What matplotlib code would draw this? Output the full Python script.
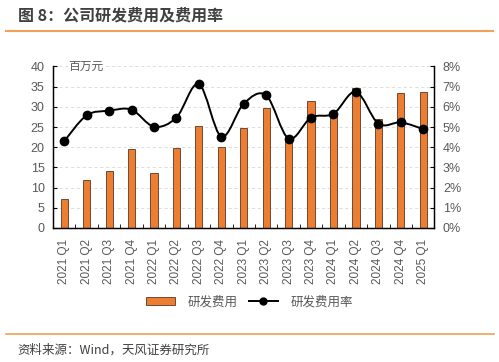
import numpy as np
import matplotlib
matplotlib.use("Agg")
import matplotlib.pyplot as plt
from matplotlib.path import Path
from matplotlib.patches import PathPatch
from matplotlib.lines import Line2D
from matplotlib.patches import Patch

plt.rcParams['font.family'] = ['Liberation Sans', 'Noto Sans CJK SC', 'DejaVu Sans']

quarters = ["2021 Q1", "2021 Q2", "2021 Q3", "2021 Q4",
            "2022 Q1", "2022 Q2", "2022 Q3", "2022 Q4",
            "2023 Q1", "2023 Q2", "2023 Q3", "2023 Q4",
            "2024 Q1", "2024 Q2", "2024 Q3", "2024 Q4",
            "2025 Q1"]
rd_expense = [7.2, 12.0, 14.1, 19.6, 13.6, 19.7, 25.3, 20.0, 24.7,
              29.6, 22.1, 31.4, 28.4, 34.7, 27.1, 33.4, 33.7]
rd_ratio = [4.30, 5.58, 5.81, 5.86, 5.02, 5.47, 7.13, 4.53, 6.16,
            6.57, 4.43, 5.47, 5.66, 6.75, 5.17, 5.23, 4.90]

gray = "#595959"
orange = "#ED7D31"
cjk = ['Noto Sans CJK SC', 'DejaVu Sans']

fig = plt.figure(figsize=(4.99, 3.62), dpi=100)
ax = fig.add_axes([0.1062, 0.3702, 0.7645, 0.4461])
ax2 = ax.twinx()

x = np.arange(len(quarters))
ax.bar(x, rd_expense, 0.32, color=orange, edgecolor="#6b4a35", linewidth=0.7, zorder=2)
ax.set_xlim(-0.5, len(quarters) - 0.5)
ax.set_ylim(0, 40)
ax.set_yticks(np.arange(0, 41, 5))
ax.yaxis.grid(True, color="#D9D9D9", linestyle=(0, (4, 3)), linewidth=0.6, zorder=0)
ax.set_axisbelow(True)

ax.set_xticks(x)
ax.set_xticklabels(quarters, rotation=90)
ax.set_xticks(np.arange(0.5, len(quarters) - 1, 1), minor=True)
ax.tick_params(axis="x", which="major", length=0, pad=8, labelsize=8.5, labelcolor=gray)
ax.tick_params(axis="x", which="minor", length=3, direction="in", color="black")
ax.tick_params(axis="y", length=3, direction="in", labelsize=9, labelcolor=gray, pad=6)

# smoothed ratio line (catmull-rom -> bezier)
pts = np.column_stack([x, np.array(rd_ratio) / 100])
verts = [pts[0]]
codes = [Path.MOVETO]
n = len(pts)
for i in range(n - 1):
    p0 = pts[i - 1] if i > 0 else pts[i]
    p1 = pts[i]
    p2 = pts[i + 1]
    p3 = pts[i + 2] if i + 2 < n else pts[i + 1]
    c1 = p1 + (p2 - p0) / 6
    c2 = p2 - (p3 - p1) / 6
    verts += [c1, c2, p2]
    codes += [Path.CURVE4] * 3
ax2.add_patch(PathPatch(Path(verts, codes), facecolor="none", edgecolor="black",
                        linewidth=1.4, zorder=3))
ax2.plot(x, np.array(rd_ratio) / 100, "o", color="black", ms=6, zorder=4)
ax2.set_ylim(0, 0.08)
ax2.set_yticks(np.arange(0, 0.081, 0.01))
ax2.set_yticklabels([f"{i}%" for i in range(9)])
ax2.tick_params(axis="y", length=3, direction="in", labelsize=9, labelcolor=gray, pad=6)

for a in (ax, ax2):
    a.spines["top"].set_visible(False)
    for s in ("left", "right", "bottom"):
        a.spines[s].set_linewidth(0.9)
        a.spines[s].set_color("black")

ax.text(0.04, 1.0, "百万元", transform=ax.transAxes, fontsize=8.5, color=gray,
        va="center", ha="left", family=cjk, fontweight="light",
        bbox=dict(facecolor="white", edgecolor="none", pad=0.5))

handles = [Patch(facecolor=orange, edgecolor="#6b4a35", linewidth=0.7),
           Line2D([0], [0], color="black", lw=1.4, marker="o", ms=5)]
leg = fig.legend(handles, ["研发费用", "研发费用率"], loc="center", ncol=2,
                 bbox_to_anchor=(0.5, 0.166), frameon=False,
                 handlelength=2.3, handleheight=0.6, handletextpad=1.0,
                 columnspacing=0.9,
                 prop={'family': cjk, 'size': 9, 'weight': 'light'})
for t in leg.get_texts():
    t.set_color(gray)

fig.text(0.036, 0.958, "图 8：公司研发费用及费用率", fontsize=11.5, fontweight="bold",
         color="#404040", family=cjk, va="center", ha="left")
fig.add_artist(Line2D([0.012, 0.988], [0.914, 0.914], color="#F4A155", lw=1.5))
fig.add_artist(Line2D([0.012, 0.99], [0.077, 0.077], color="#F4A155", lw=1.2))
fig.text(0.034, 0.033, "资料来源：Wind，天风证券研究所", fontsize=9, color="#404040",
         family=cjk, va="center", ha="left")

fig.savefig("out.png", dpi=100)
